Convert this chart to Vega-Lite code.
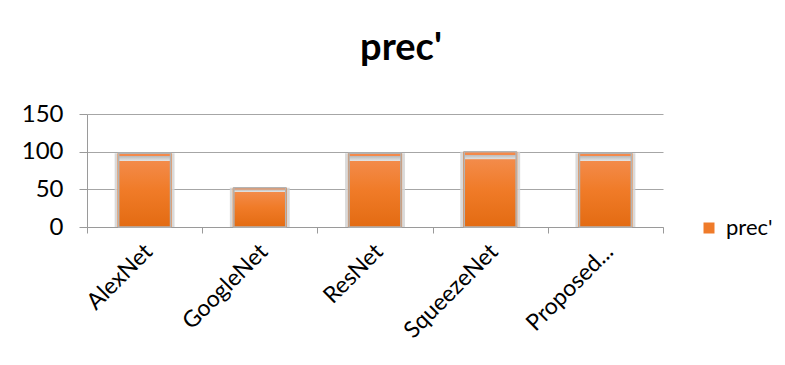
{
  "$schema": "https://vega.github.io/schema/vega-lite/v6.json",
  "autosize": {"type": "none"},
  "width": 576,
  "height": 113,
  "padding": {"left": 87, "top": 114, "right": 122, "bottom": 138},
  "background": "#ffffff",
  "config": {
    "font": "Lato",
    "view": {"stroke": null},
    "axis": {
      "labelFont": "Lato",
      "labelColor": "#000000",
      "domainColor": "#9a9a9a",
      "tickColor": "#9a9a9a",
      "gridColor": "#a6a6a6",
      "titleFontSize": 0
    }
  },
  "title": {
    "text": "prec'",
    "font": "Lato",
    "fontSize": 38,
    "fontWeight": "bold",
    "color": "#000000",
    "anchor": "middle",
    "dx": 26,
    "offset": 34
  },
  "data": {
    "values": [
      {"model": "AlexNet", "series": "prec'", "value": 98},
      {"model": "GoogleNet", "series": "prec'", "value": 52},
      {"model": "ResNet", "series": "prec'", "value": 98},
      {"model": "SqueezeNet", "series": "prec'", "value": 100},
      {"model": "Proposed...", "series": "prec'", "value": 98}
    ]
  },
  "encoding": {
    "x": {
      "field": "model",
      "type": "nominal",
      "sort": null,
      "title": null,
      "scale": {"paddingInner": 0, "paddingOuter": 0},
      "axis": {
        "labelAngle": -45,
        "labelFontSize": 23,
        "tickBand": "extent",
        "tickSize": 6,
        "labelPadding": 7,
        "labelOffset": -4,
        "grid": false
      }
    },
    "y": {
      "field": "value",
      "type": "quantitative",
      "title": null,
      "scale": {"domain": [0, 150], "nice": false},
      "axis": {
        "values": [0, 50, 100, 150],
        "labelFontSize": 24,
        "tickSize": 8,
        "labelPadding": 16,
        "grid": true
      }
    }
  },
  "layer": [
    {
      "mark": {"type": "bar", "width": {"band": 0.52}, "color": "#d4d4d4", "opacity": 0.85},
      "encoding": {}
    },
    {
      "mark": {"type": "bar", "width": {"band": 0.47}},
      "encoding": {
        "color": {
          "field": "series",
          "type": "nominal",
          "title": null,
          "scale": {"range": ["#ef7b2a"]},
          "legend": {
            "orient": "none",
            "legendX": 611,
            "legendY": 103,
            "symbolType": "square",
            "symbolSize": 121,
            "symbolStrokeWidth": 0,
            "labelFont": "Lato",
            "labelFontSize": 22,
            "labelColor": "#000000",
            "labelOffset": 6
          }
        }
      }
    },
    {
      "mark": {
        "type": "bar",
        "width": {"band": 0.45},
        "stroke": "#b4b4b4",
        "strokeWidth": 1.5,
        "fill": {
          "x1": 0, "y1": 0, "x2": 0, "y2": 1,
          "gradient": "linear",
          "stops": [
            {"offset": 0, "color": "#f4894a"},
            {"offset": 0.04, "color": "#f4894a"},
            {"offset": 0.045, "color": "#bdbdbd"},
            {"offset": 0.1, "color": "#e2e2e2"},
            {"offset": 0.105, "color": "#f38b4a"},
            {"offset": 0.5, "color": "#f07b28"},
            {"offset": 1, "color": "#e36b12"}
          ]
        }
      },
      "encoding": {}
    }
  ]
}
